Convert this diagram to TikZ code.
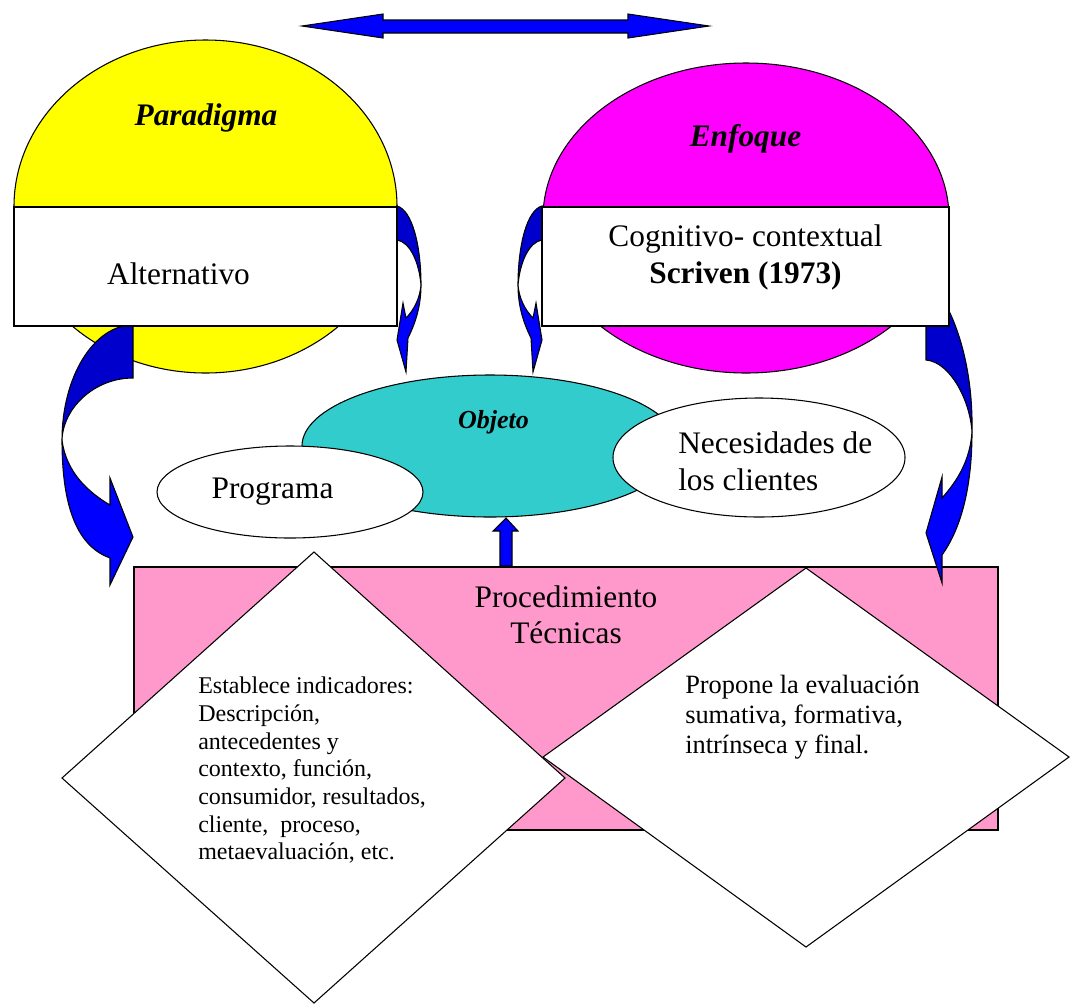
\documentclass[tikz,border=0pt]{standalone}
\usepackage{fontspec}
\setmainfont{Liberation Serif}
\usetikzlibrary{shapes.geometric}
\definecolor{bandBlue}{HTML}{0000FF}
\definecolor{bandDark}{HTML}{0000CC}
\definecolor{paraYellow}{HTML}{FFFF00}
\definecolor{enfMagenta}{HTML}{FF00FF}
\definecolor{objTeal}{HTML}{33CCCC}
\definecolor{procPink}{HTML}{FF99CC}
\begin{document}
\begin{tikzpicture}[x=0.75pt,y=-0.75pt,
  outline/.style={draw=black, line width=0.8pt},
  ovalshape/.style={ellipse, outline, inner sep=0pt},
  boxshape/.style={rectangle, outline, inner sep=0pt},
  bandback/.style={outline, fill=bandDark},
  bandfront/.style={outline, fill=bandBlue},
  plaintext/.style={inner sep=0pt, font=\fontsize{23.5}{27.75}\selectfont},
  titletext/.style={inner sep=0pt, font=\fontsize{23.5}{27.75}\selectfont\bfseries\itshape},
  smalltext/.style={inner sep=0pt, align=left}]
\useasboundingbox (0,0) rectangle (1070,1004);

% double-headed arrow at the top
\path[bandfront] (302,26) -- (383,14) -- (383,20) -- (628,20) -- (628,14)
  -- (709,26) -- (628,38) -- (628,33) -- (383,33) -- (383,38) -- cycle;

% large ovals
\node[ovalshape, fill=paraYellow, minimum width=287.25pt, minimum height=249.75pt] (paraOval) at (205.5,206.5) {};
\node[ovalshape, fill=enfMagenta, minimum width=304.5pt, minimum height=232.5pt] (enfOval) at (746,218) {};

% object oval with its two satellites
\node[ovalshape, fill=objTeal, minimum width=282pt, minimum height=106.5pt] (objOval) at (490,446) {};
\node[ovalshape, fill=white, minimum width=199.5pt, minimum height=69pt] (progOval) at (290,492) {};
\node[ovalshape, fill=white, minimum width=219pt, minimum height=89.25pt] (necOval) at (759,457.5) {};

% procedure box
\node[boxshape, fill=procPink, minimum width=648pt, minimum height=197.25pt] (procBox) at (566,698.5) {};

% curved arrow, left side
\path[bandback] (133,325) .. controls (94,325) and (62,376.5) .. (62,440)
  .. controls (63,408) and (94.4,378) .. (133,378) -- cycle;
\path[bandfront] (62,440) .. controls (62,500) and (74,545) .. (110,558)
  -- (110,585) -- (133,537) -- (110,478) -- (110,505)
  .. controls (88,492) and (66,472) .. (62,440) -- cycle;

% curved arrow, right side
\path[bandback] (926,305) -- (926,360) .. controls (950,362) and (970,400) .. (972,432)
  .. controls (973,380) and (962,335) .. (946,305) -- cycle;
\path[bandfront] (972,432) .. controls (972,490) and (960,530) .. (942,555)
  -- (942,583) -- (926,533) -- (942,477) -- (942,498)
  .. controls (958,480) and (970,460) .. (972,432) -- cycle;

% small curved arrow beside the left box
\path[bandback] (397,206) .. controls (412,210) and (421,245) .. (421,285)
  .. controls (419,262) and (410,242) .. (397,240) -- cycle;
\path[bandfront] (421,285) .. controls (421,305) and (416,322) .. (408,338)
  -- (406,372) -- (397,340) -- (403,303) -- (406,318)
  .. controls (414,310) and (420,298) .. (421,285) -- cycle;

% small curved arrow beside the right box
\path[bandback] (542,206) .. controls (527,210) and (518,245) .. (518,285)
  .. controls (520,262) and (529,242) .. (542,240) -- cycle;
\path[bandfront] (518,285) .. controls (518,305) and (523,322) .. (531,338)
  -- (533,372) -- (542,340) -- (536,303) -- (533,318)
  .. controls (525,310) and (519,298) .. (518,285) -- cycle;

% white boxes across the large ovals
\node[boxshape, fill=white, minimum width=287.25pt, minimum height=89.25pt] (altBox) at (205.5,266.5) {};
\node[boxshape, fill=white, minimum width=305.25pt, minimum height=89.25pt] (cogBox) at (745.5,266.5) {};

% upward block arrow from the procedure box to the object oval
\path[bandfront] (506,518) -- (518,531) -- (512,531) -- (512,566) -- (500,566)
  -- (500,531) -- (493,531) -- cycle;

% diamonds
\path[outline, fill=white] (314,552) -- (565,778) -- (314,1003) -- (62,778) -- cycle;
\path[outline, fill=white] (806,568) -- (1069,757) -- (806,947) -- (543,757) -- cycle;

% labels
\node[titletext, anchor=base] (paraText) at (206,125) {Paradigma};
\node[titletext, anchor=base] (enfText) at (745.5,146) {Enfoque};
\node[plaintext, anchor=base] (altText) at (178.5,284) {Alternativo};
\node[plaintext, anchor=north, align=center] (cogText) at (745.5,224.6)
  {Cognitivo- contextual\\\textbf{Scriven (1973)}};
\node[inner sep=0pt, anchor=base, font=\fontsize{19.5}{23}\selectfont\bfseries\itshape] (objText) at (493.5,428) {Objeto};
\node[plaintext, anchor=base] (progText) at (272.5,498) {Programa};
\node[plaintext, anchor=north west, align=left] (necText) at (678,431.6)
  {Necesidades de\\los clientes};
\node[plaintext, anchor=north, align=center, font=\fontsize{23.5}{27}\selectfont] (procText) at (566,585.6)
  {Procedimiento\\Técnicas};
\node[smalltext, anchor=north west, font=\fontsize{18}{20.8}\selectfont] (leftText) at (198,676.6)
  {Establece indicadores:\\Descripción,\\antecedentes y\\contexto, función,\\consumidor, resultados,\\cliente,\ \ proceso,\\metaevaluación, etc.};
\node[smalltext, anchor=north west, font=\fontsize{19.8}{22.5}\selectfont] (rightText) at (685,675)
  {Propone la evaluación\\sumativa, formativa,\\intrínseca y final.};
\end{tikzpicture}
\end{document}
